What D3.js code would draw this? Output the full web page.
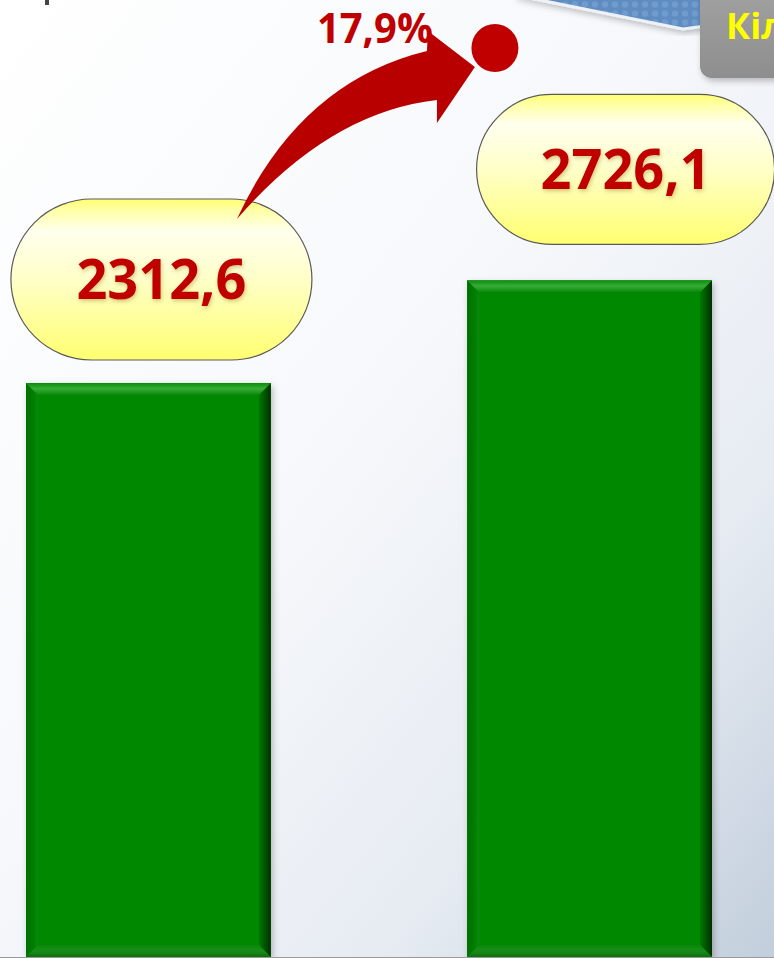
<!DOCTYPE html>
<html>
<head>
<meta charset="utf-8">
<script src="https://cdn.jsdelivr.net/npm/d3@7"></script>
<style>
html,body{margin:0;padding:0;overflow:hidden;background:#fff;}
svg{display:block;}
</style>
</head>
<body>
<script>
// ---- data ----
const categories = ["Період 1", "Період 2"];
const values = [2312.6, 2726.1];
const titleText = "Кількість";

// ---- setup ----
const W = 774, H = 958;
const svg = d3.select("body").append("svg").attr("width", W).attr("height", H);
const defs = svg.append("defs");

const fmt = d3.formatLocale({decimal: ",", thousands: " ", grouping: [3], currency: ["", ""]}).format(".1f");
const growth = (values[1] / values[0] - 1) * 100;

// scales
const x = d3.scaleBand().domain(categories).range([26, 712]).paddingInner(0.445).paddingOuter(0);
const y = d3.scaleLinear().domain([0, 3000]).range([957, 957 - 3000 * 0.24821]);

// ---- gradients / filters ----
const bg = defs.append("linearGradient").attr("id", "bg").attr("x1", 0).attr("y1", 0).attr("x2", 1).attr("y2", 1);
[[0, "#ffffff"], [0.45, "#f6f8fb"], [0.75, "#e6ebf2"], [1, "#c2cedc"]].forEach(([o, c]) => bg.append("stop").attr("offset", o).attr("stop-color", c));

const pillG = defs.append("linearGradient").attr("id", "pill").attr("x1", 0).attr("y1", 0).attr("x2", 0).attr("y2", 1);
[[0, "#ffff70"], [0.06, "#ffffa0"], [0.2, "#ffffee"], [0.5, "#ffffc8"], [1, "#ffff70"]].forEach(([o, c]) => pillG.append("stop").attr("offset", o).attr("stop-color", c));

const topBev = defs.append("linearGradient").attr("id", "topBev").attr("x1", 0).attr("y1", 0).attr("x2", 0).attr("y2", 1);
[[0, "#0a8d0a"], [0.45, "#37ab37"], [0.6, "#2ea42e"], [1, "#078707"]].forEach(([o, c]) => topBev.append("stop").attr("offset", o).attr("stop-color", c));
const rightBev = defs.append("linearGradient").attr("id", "rightBev").attr("x1", 0).attr("y1", 0).attr("x2", 1).attr("y2", 0);
[[0, "#067a06"], [0.6, "#024d02"], [1, "#003000"]].forEach(([o, c]) => rightBev.append("stop").attr("offset", o).attr("stop-color", c));
const leftBev = defs.append("linearGradient").attr("id", "leftBev").attr("x1", 0).attr("y1", 0).attr("x2", 1).attr("y2", 0);
[[0, "#046f04"], [1, "#078707"]].forEach(([o, c]) => leftBev.append("stop").attr("offset", o).attr("stop-color", c));
const botBev = defs.append("linearGradient").attr("id", "botBev").attr("x1", 0).attr("y1", 0).attr("x2", 0).attr("y2", 1);
[[0, "#078707"], [0.5, "#1a8e1a"], [1, "#0b6e0b"]].forEach(([o, c]) => botBev.append("stop").attr("offset", o).attr("stop-color", c));

const boxG = defs.append("linearGradient").attr("id", "boxG").attr("x1", 0).attr("y1", 0).attr("x2", 0).attr("y2", 1);
[[0, "#a3a3a3"], [1, "#8e8e8e"]].forEach(([o, c]) => boxG.append("stop").attr("offset", o).attr("stop-color", c));

const sh = defs.append("filter").attr("id", "shadow").attr("x", "-10%").attr("y", "-10%").attr("width", "130%").attr("height", "130%");
sh.append("feDropShadow").attr("dx", 2).attr("dy", 3).attr("stdDeviation", 3).attr("flood-color", "#000").attr("flood-opacity", 0.25);
const tsh = defs.append("filter").attr("id", "tshadow").attr("x", "-10%").attr("y", "-20%").attr("width", "130%").attr("height", "150%");
tsh.append("feDropShadow").attr("dx", 1).attr("dy", 2).attr("stdDeviation", 2).attr("flood-color", "#806000").attr("flood-opacity", 0.35);

// ribbon pattern
const pat = defs.append("pattern").attr("id", "hex").attr("width", 10).attr("height", 9).attr("patternUnits", "userSpaceOnUse");
pat.append("rect").attr("width", 10).attr("height", 9).attr("fill", "#5f8dc2");
pat.append("circle").attr("cx", 5).attr("cy", 4.5).attr("r", 3.2).attr("fill", "#6f9bcd");

// ---- background ----
svg.append("rect").attr("width", W).attr("height", H).attr("fill", "url(#bg)");

// top-left small mark
svg.append("rect").attr("x", 45).attr("y", 0).attr("width", 4).attr("height", 5).attr("fill", "#444");

// blue ribbon top-right
svg.append("path")
  .attr("d", "M515,-5 L683,29 L705,26 L705,-5 Z")
  .attr("fill", "url(#hex)").attr("stroke", "#eef2f7").attr("stroke-width", 3)
  .attr("filter", "url(#shadow)");

// gray title box
const boxGroup = svg.append("g");
boxGroup.append("rect").attr("x", 700).attr("y", -20).attr("width", 120).attr("height", 98).attr("rx", 12)
  .attr("fill", "url(#boxG)").attr("filter", "url(#shadow)");
boxGroup.append("text").attr("x", 726).attr("y", 39)
  .attr("font-family", "Open Sans, sans-serif").attr("font-weight", 700).attr("font-size", 36)
  .attr("fill", "#ffff00").text(titleText);

// ---- bars ----
const bev = 12;
const bars = svg.append("g").selectAll("g.bar").data(values).join("g").attr("class", "bar").attr("filter", "url(#shadow)");
bars.each(function(v, i) {
  const g = d3.select(this);
  const x0 = x(categories[i]), x1 = x0 + x.bandwidth();
  const y0 = y(v), y1 = y(0);
  g.append("rect").attr("x", x0).attr("y", y0).attr("width", x1 - x0).attr("height", y1 - y0).attr("fill", "#058805");
  g.append("polygon").attr("points", [[x0, y0], [x0 + bev, y0 + bev], [x0 + bev, y1 - bev], [x0, y1]].join(" ")).attr("fill", "url(#leftBev)");
  g.append("polygon").attr("points", [[x1, y0], [x1, y1], [x1 - bev, y1 - bev], [x1 - bev, y0 + bev]].join(" ")).attr("fill", "url(#rightBev)");
  g.append("polygon").attr("points", [[x0, y1], [x1, y1], [x1 - bev, y1 - bev], [x0 + bev, y1 - bev]].join(" ")).attr("fill", "url(#botBev)");
  g.append("polygon").attr("points", [[x0, y0], [x1, y0], [x1 - bev, y0 + bev], [x0 + bev, y0 + bev]].join(" ")).attr("fill", "url(#topBev)");
});

// baseline
svg.append("line").attr("x1", 0).attr("x2", W).attr("y1", y(0) + 0.5).attr("y2", y(0) + 0.5).attr("stroke", "#9a9a9a").attr("stroke-width", 1);

// ---- value pills ----
// layout of pills relative to bars: [dx from bar centre, gap above bar, width, height]
const pillLayout = [[13, 23, 301, 161], [36, 36, 298, 150]];
const pills = values.map((v, i) => {
  const [dx, gap, w, h] = pillLayout[i];
  const cx = x(categories[i]) + x.bandwidth() / 2 + dx;
  const bottom = y(v) - gap;
  return {cx, cy: bottom - h / 2, w, h, top: bottom - h, left: cx - w / 2};
});
const pg = svg.append("g").selectAll("g.pill").data(values).join("g").attr("class", "pill");
pg.append("rect")
  .attr("x", (d, i) => pills[i].left).attr("y", (d, i) => pills[i].top)
  .attr("width", (d, i) => pills[i].w).attr("height", (d, i) => pills[i].h)
  .attr("rx", (d, i) => pills[i].h / 2).attr("ry", (d, i) => pills[i].h / 2)
  .attr("fill", "url(#pill)").attr("stroke", "#5a5a5a").attr("stroke-width", 1.2);
pg.append("text")
  .attr("x", (d, i) => pills[i].cx).attr("y", (d, i) => pills[i].cy + 20)
  .attr("text-anchor", "middle")
  .attr("font-family", "Open Sans, sans-serif").attr("font-weight", 700).attr("font-size", 55)
  .attr("textLength", 170).attr("lengthAdjust", "spacingAndGlyphs")
  .attr("fill", "#c00000").attr("filter", "url(#tshadow)")
  .text(d => fmt(d));

// ---- growth arrow ----
const t = [pills[0].left + 226, pills[0].top + 20];   // tail
const off = (p) => [p[0] - 237 + t[0], p[1] - 219 + t[1]];
const P = (p) => off(p).join(",");
const arrowD = `M${P([237,219])} Q${P([300,82])} ${P([427,51])} L${P([428,31])} L${P([475,67])} L${P([437,123])} L${P([437,100])} Q${P([330,112])} ${P([237,219])} Z`;
svg.append("path").attr("d", arrowD).attr("fill", "#b80000");
const circ = off([495, 48]);
svg.append("ellipse").attr("cx", circ[0]).attr("cy", circ[1]).attr("rx", 23.5).attr("ry", 24).attr("fill", "#c00000");

const gLabel = off([375, 43]);
svg.append("text").attr("x", gLabel[0]).attr("y", gLabel[1])
  .attr("text-anchor", "middle")
  .attr("font-family", "Open Sans, sans-serif").attr("font-weight", 700).attr("font-size", 41)
  .attr("textLength", 116).attr("lengthAdjust", "spacingAndGlyphs")
  .attr("fill", "#c00000")
  .text(fmt(growth) + "%");
</script>
</body>
</html>
